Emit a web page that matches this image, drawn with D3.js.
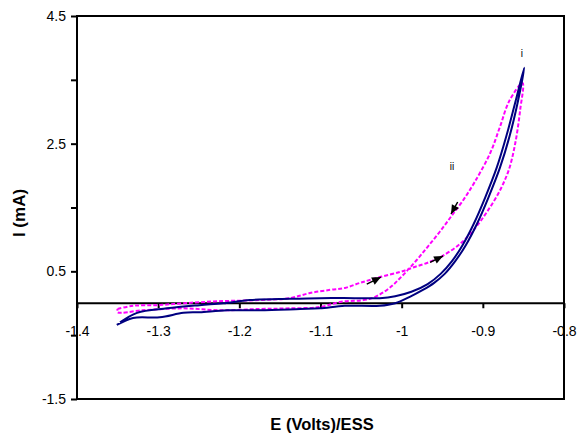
<!DOCTYPE html>
<html><head><meta charset="utf-8">
<script src="https://cdn.jsdelivr.net/npm/d3@7"></script>
<style>body{margin:0;background:#fff}svg{display:block}text{font-family:"Liberation Sans",Arial,sans-serif}</style>
</head><body>
<svg id="c" width="580" height="435"></svg>
<script>
// ---- data ----
const xTicks = [-1.4, -1.3, -1.2, -1.1, -1.0, -0.9, -0.8];
const xTickLabels = ["-1.4", "-1.3", "-1.2", "-1.1", "-1", "-0.9", "-0.8"];
const yTicks = [4.5, 3.5, 2.5, 1.5, 0.5, -0.5, -1.5];
const yTickLabels = ["4.5", "", "2.5", "", "0.5", "", "-1.5"];
const seriesIE = [
  [-1.351,-0.34],[-1.331,-0.23],[-1.298,-0.22],[-1.269,-0.15],[-1.249,-0.14],[-1.215,-0.11],[-1.175,-0.11],[-1.125,-0.09],[-1.101,-0.08],[-1.070,-0.04],[-1.027,-0.04],[-1.008,0.00],[-0.990,0.10],[-0.975,0.20],[-0.960,0.32],[-0.947,0.46],[-0.934,0.66],[-0.921,0.91],[-0.907,1.25],[-0.893,1.66],[-0.879,2.12],[-0.867,2.62],[-0.857,3.15],[-0.849,3.69],
  [-0.860,3.15],[-0.871,2.62],[-0.883,2.12],[-0.897,1.66],[-0.911,1.25],[-0.925,0.91],[-0.938,0.66],[-0.952,0.46],[-0.968,0.30],[-0.988,0.18],[-1.008,0.11],[-1.027,0.08],[-1.058,0.08],[-1.101,0.08],[-1.138,0.07],[-1.187,0.05],[-1.220,0.00],[-1.249,-0.03],[-1.289,-0.08],[-1.326,-0.15],[-1.347,-0.30]
];
const seriesIIE = [
  [-1.350,-0.09],[-1.331,-0.04],[-1.301,-0.03],[-1.269,0.00],[-1.228,0.03],[-1.175,0.05],[-1.138,0.08],[-1.113,0.16],[-1.088,0.21],[-1.070,0.24],[-1.051,0.32],[-1.027,0.41],[-1.002,0.49],[-0.986,0.56],[-0.967,0.64],[-0.950,0.74],[-0.928,0.93],[-0.910,1.17],[-0.895,1.43],[-0.880,1.74],[-0.868,2.09],[-0.860,2.51],[-0.854,3.03],[-0.851,3.45],
  [-0.867,3.18],[-0.879,2.76],[-0.891,2.35],[-0.910,1.90],[-0.925,1.60],[-0.939,1.36],[-0.953,1.12],[-0.967,0.90],[-0.982,0.67],[-1.000,0.42],[-1.017,0.22],[-1.039,0.07],[-1.076,0.02],[-1.101,-0.06],[-1.138,-0.08],[-1.175,-0.09],[-1.224,-0.11],[-1.269,-0.08],[-1.319,-0.11],[-1.350,-0.14],[-1.350,-0.09]
];
// arrows: [tailE, tailI, tipE, tipI]
const arrows = [
  [-1.043, 0.30, -1.0255, 0.41],
  [-0.965, 0.64, -0.949, 0.74],
  [-0.931, 1.586, -0.9392, 1.398]
];
const curveLabels = [["i", -0.852, 3.85], ["ii", -0.938, 2.08]];
const xTitle = "E (Volts)/ESS";
const yTitle = "I (mA)";

// ---- layout ----
const L = 77, R = 564, T = 16, B = 399;
const svg = d3.select("#c");
const x = d3.scaleLinear().domain([-1.4, -0.8]).range([L, R]);
const y = d3.scaleLinear().domain([-1.5, 4.5]).range([B, T]);

// frame
svg.append("rect").attr("x", L).attr("y", T).attr("width", R - L).attr("height", B - T)
  .attr("fill", "none").attr("stroke", "#000").attr("stroke-width", 2);

// y axis ticks
const yAxis = d3.axisLeft(y).tickValues(yTicks).tickSize(6).tickSizeOuter(0)
  .tickFormat((d, i) => yTickLabels[i]);
const gy = svg.append("g").attr("transform", `translate(${L},0)`).call(yAxis);
gy.select(".domain").remove();
gy.selectAll("line").attr("stroke", "#000").attr("stroke-width", 2);
gy.selectAll("text").attr("font-size", 14).attr("fill", "#000").attr("dx", -2)
  .style("font-family", "'Liberation Sans',Arial,sans-serif");

// x axis at y=0
const xAxis = d3.axisBottom(x).tickValues(xTicks).tickSize(5).tickSizeOuter(0)
  .tickFormat((d, i) => xTickLabels[i]);
const gx = svg.append("g").attr("transform", `translate(0,${y(0)})`).call(xAxis);
gx.select(".domain").attr("stroke", "#000").attr("stroke-width", 2).attr("d", `M${L},0H${R}`);
gx.selectAll("line").attr("stroke", "#000").attr("stroke-width", 2);
gx.selectAll("text").attr("font-size", 14).attr("fill", "#000").attr("dy", "1.75em")
  .style("font-family", "'Liberation Sans',Arial,sans-serif");

// curves
const line = d3.line().x(d => x(d[0])).y(d => y(d[1])).curve(d3.curveCatmullRom.alpha(0.5));
svg.append("path").datum(seriesIIE).attr("d", line).attr("fill", "none")
  .attr("stroke", "#ff00ff").attr("stroke-width", 2).attr("stroke-dasharray", "4,2");
svg.append("path").datum(seriesIE).attr("d", line).attr("fill", "none")
  .attr("stroke", "#000080").attr("stroke-width", 2);

// arrows
arrows.forEach(a => {
  const x0 = x(a[0]), y0 = y(a[1]), x1 = x(a[2]), y1 = y(a[3]);
  const ang = Math.atan2(y1 - y0, x1 - x0);
  svg.append("line").attr("x1", x0).attr("y1", y0).attr("x2", x1).attr("y2", y1)
    .attr("stroke", "#000").attr("stroke-width", 1.5);
  const hl = 9, hw = 4;
  const bx = x1 - hl * Math.cos(ang), by = y1 - hl * Math.sin(ang);
  const px = -Math.sin(ang) * hw, py = Math.cos(ang) * hw;
  svg.append("path").attr("d", `M${x1},${y1}L${bx + px},${by + py}L${bx - px},${by - py}Z`).attr("fill", "#000");
});

// labels
curveLabels.forEach(c => {
  svg.append("text").attr("x", x(c[1])).attr("y", y(c[2])).attr("text-anchor", "middle")
    .attr("font-size", 10).attr("fill", "#000").text(c[0]);
});

// titles
svg.append("text").attr("x", 322).attr("y", 430).attr("text-anchor", "middle")
  .attr("font-size", 16.5).attr("font-weight", "bold").text(xTitle);
svg.append("text").attr("transform", "translate(25,213) rotate(-90)").attr("text-anchor", "middle")
  .attr("font-size", 17).attr("font-weight", "bold").text(yTitle);
</script>
</body></html>
